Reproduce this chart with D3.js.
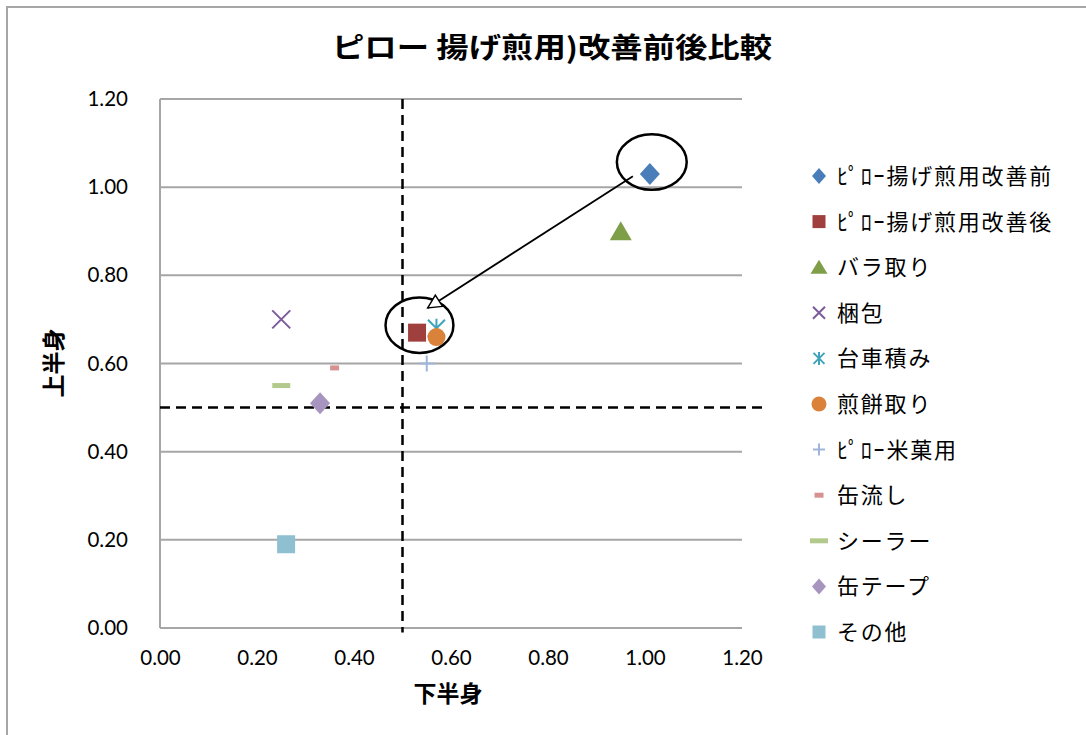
<!DOCTYPE html>
<html><head><meta charset="utf-8">
<script src="https://cdn.jsdelivr.net/npm/d3@7/dist/d3.min.js"></script>
<style>body{margin:0;background:#fff;}svg{display:block;}</style>
</head><body>
<script>
// ---- data ----
const seriesNames = ["ﾋﾟﾛｰ揚げ煎用改善前","ﾋﾟﾛｰ揚げ煎用改善後","バラ取り","梱包","台車積み","煎餅取り","ﾋﾟﾛｰ米菓用","缶流し","シーラー","缶テープ","その他"];
const xValues = [1.01, 0.53, 0.95, 0.25, 0.57, 0.57, 0.55, 0.36, 0.25, 0.33, 0.26];
const yValues = [1.03, 0.67, 0.90, 0.70, 0.68, 0.66, 0.60, 0.59, 0.55, 0.51, 0.19];
const markerTypes = ["diamond","square","triangle","x","asterisk","circle","plus","smalldash","dash","diamond","square"];
const colors = ["#4A7EBB","#A0403E","#7E9F47","#7A5C9A","#3FA3BC","#DA823A","#9FB5DC","#D69290","#B4CA8C","#A795C0","#8FC0D2"];
const xTicks = [0,0.2,0.4,0.6,0.8,1.0,1.2];
const yTicks = [0,0.2,0.4,0.6,0.8,1.0,1.2];
const thresholdX = 0.5, thresholdY = 0.5;
const titleText = "ピロー 揚げ煎用)改善前後比較";
const xTitle = "下半身", yTitle = "上半身";
// annotations (data units)
const ellipses = [{cx:1.014, cy:1.057, rx:0.072, ry:0.063},{cx:0.535, cy:0.687, rx:0.070, ry:0.063}];
const arrow = {x1:0.975, y1:1.025, x2:0.552, y2:0.726};

const W=1086,H=735;
const svg=d3.select("body").append("svg").attr("width",W).attr("height",H);
svg.append("path").attr("d",`M7,${H} V7 H${W}`).attr("fill","none").attr("stroke","#A6A6A6").attr("stroke-width",2);

const x=d3.scaleLinear().domain([0,1.2]).range([160,742]);
const y=d3.scaleLinear().domain([0,1.2]).range([628,99]);

// gridlines
svg.append("g").selectAll("line").data(yTicks).join("line")
 .attr("x1",x(0)).attr("x2",x(1.2)).attr("y1",d=>y(d)).attr("y2",d=>y(d))
 .attr("stroke","#A6A6A6").attr("stroke-width",2);
svg.append("line").attr("x1",x(0)).attr("x2",x(0)).attr("y1",y(0)).attr("y2",y(1.2)).attr("stroke","#A6A6A6").attr("stroke-width",2);

const tickFont="Lato, 'Liberation Sans', sans-serif";
const yAxis=d3.axisLeft(y).tickValues(yTicks).tickFormat(d3.format(".2f")).tickSize(0).tickPadding(32);
const ga=svg.append("g").attr("transform",`translate(${x(0)},0)`).call(yAxis);
ga.select(".domain").remove();
ga.selectAll("text").attr("font-family",tickFont).attr("font-size",20.5).attr("fill","#000");
const xAxis=d3.axisBottom(x).tickValues(xTicks).tickFormat(d3.format(".2f")).tickSize(0).tickPadding(22);
const gx=svg.append("g").attr("transform",`translate(0,${y(0)})`).call(xAxis);
gx.select(".domain").remove();
gx.selectAll("text").attr("font-family",tickFont).attr("font-size",20.5).attr("fill","#000");

// threshold dashed lines
svg.append("line").attr("x1",x(thresholdX)).attr("x2",x(thresholdX)).attr("y1",y(1.2)).attr("y2",y(-0.01))
 .attr("stroke","#000").attr("stroke-width",2.5).attr("stroke-dasharray","10,6");
svg.append("line").attr("x1",x(0)).attr("x2",x(1.245)).attr("y1",y(thresholdY)).attr("y2",y(thresholdY))
 .attr("stroke","#000").attr("stroke-width",2.5).attr("stroke-dasharray","10,6");

// markers
function drawMarker(g,type,color,s){
  const h=s/2;
  if(type==="diamond") g.append("path").attr("d",`M0,${-h-1}L${h},0L0,${h+1}L${-h},0Z`).attr("fill",color);
  else if(type==="square") g.append("rect").attr("x",-h+1).attr("y",-h+1).attr("width",s-2).attr("height",s-2).attr("fill",color);
  else if(type==="triangle") g.append("path").attr("d",`M0,${-h}L${h+1},${h-1}L${-h-1},${h-1}Z`).attr("fill",color);
  else if(type==="circle") g.append("circle").attr("r",h).attr("fill",color);
  else if(type==="x") g.append("path").attr("d",`M${-h+1},${-h+1}L${h-1},${h-1}M${-h+1},${h-1}L${h-1},${-h+1}`).attr("stroke",color).attr("stroke-width",2);
  else if(type==="plus") g.append("path").attr("d",`M0,${-h+1}V${h-1}M${-h+1},0H${h-1}`).attr("stroke",color).attr("stroke-width",2);
  else if(type==="asterisk") g.append("path").attr("d",`M${-h+2},${-h+2}L${h-2},${h-2}M${-h+2},${h-2}L${h-2},${-h+2}M0,${-h+1}V${h-1}`).attr("stroke",color).attr("stroke-width",2);
  else if(type==="dash") g.append("rect").attr("x",-9).attr("y",-2.5).attr("width",18).attr("height",5).attr("fill",color);
  else if(type==="smalldash") g.append("rect").attr("x",-4.5).attr("y",-2.5).attr("width",9).attr("height",5).attr("fill",color);
}
const sizes={diamond:20,square:20,triangle:20,circle:18,x:20,plus:18,asterisk:21,dash:18,smalldash:9};
const order=[0,2,3,4,1,5,6,7,8,9,10];
order.forEach(i=>{
  const g=svg.append("g").attr("transform",`translate(${x(xValues[i])},${y(yValues[i])})`);
  drawMarker(g,markerTypes[i],colors[i],sizes[markerTypes[i]]);
});

// annotations
ellipses.forEach(e=>{
  svg.append("ellipse").attr("cx",x(e.cx)).attr("cy",y(e.cy))
   .attr("rx",x(e.rx)-x(0)).attr("ry",y(0)-y(e.ry))
   .attr("fill","none").attr("stroke","#000").attr("stroke-width",2.5);
});
svg.append("defs").append("marker").attr("id","arr").attr("viewBox","0 0 12 12").attr("refX",11).attr("refY",6)
 .attr("markerWidth",16).attr("markerHeight",16).attr("markerUnits","userSpaceOnUse").attr("orient","auto")
 .append("path").attr("d","M1,1L11,6L1,11Z").attr("fill","#fff").attr("stroke","#000").attr("stroke-width",1.1);
svg.append("line").attr("x1",x(arrow.x1)).attr("y1",y(arrow.y1)).attr("x2",x(arrow.x2)).attr("y2",y(arrow.y2))
 .attr("stroke","#000").attr("stroke-width",1.8).attr("marker-end","url(#arr)");

// titles
const cjk="'Noto Sans CJK JP', sans-serif";
svg.append("text").attr("x",552).attr("y",58).attr("text-anchor","middle").attr("font-family",cjk)
 .attr("font-weight","bold").attr("font-size",28).attr("textLength",440).attr("lengthAdjust","spacingAndGlyphs").text(titleText);
svg.append("text").attr("x",448).attr("y",702).attr("text-anchor","middle").attr("font-family",cjk)
 .attr("font-weight","bold").attr("font-size",23).text(xTitle);
svg.append("text").attr("transform","translate(62,363) rotate(-90)").attr("text-anchor","middle").attr("font-family",cjk)
 .attr("font-weight","bold").attr("font-size",23).text(yTitle);

// legend
const leg=svg.append("g");
seriesNames.forEach((n,i)=>{
  const ly=176+i*45.6;
  const g=leg.append("g").attr("transform",`translate(819,${ly})`);
  const t=markerTypes[i];
  const ls={diamond:14,square:15,triangle:15,circle:15,x:14,plus:14,asterisk:15,dash:14,smalldash:8}[t];
  drawMarker(g,t,colors[i],ls);
  leg.append("text").attr("x",837).attr("y",ly+8).attr("font-family",cjk).attr("font-size",22)
   .attr("letter-spacing",1.8).attr("fill","#000").text(n);
});
</script>
</body></html>
